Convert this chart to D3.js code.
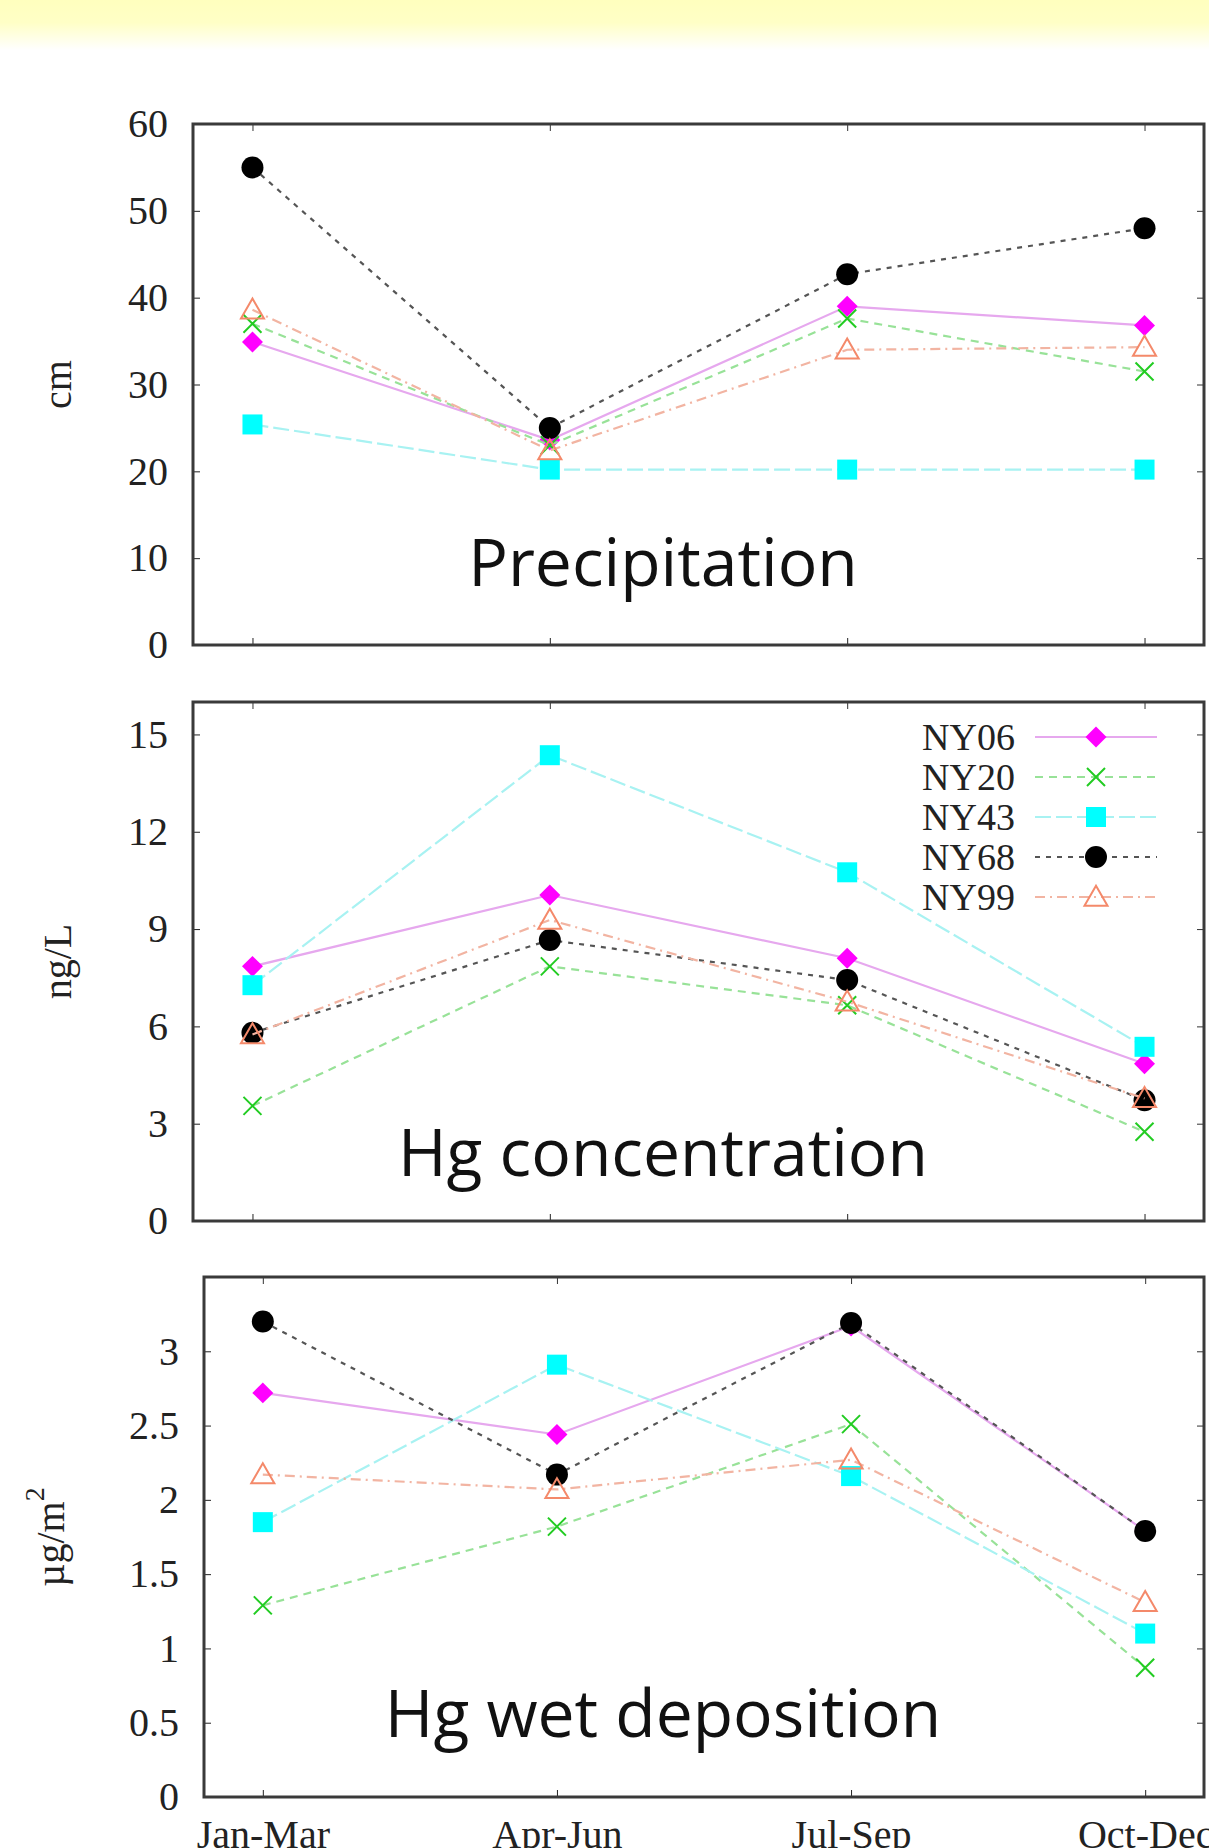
<!DOCTYPE html>
<html>
<head>
<meta charset="utf-8">
<script src="https://cdn.jsdelivr.net/npm/d3@7"></script>
<style>
body { margin: 0; background: #fff; }
svg { display: block; }
</style>
</head>
<body>
<script>
// seasons on the x axis
var quarters = ["Jan-Mar", "Apr-Jun", "Jul-Sep", "Oct-Dec"];
var stations = ["NY06", "NY20", "NY43", "NY68", "NY99"];

// precipitation (cm), one row per station (same order as stations)
var precip = [
    [34.9, 23.6, 39.0, 36.8],
    [37.0, 23.0, 37.6, 31.5],
    [25.4, 20.2, 20.2, 20.2],
    [55.0, 25.0, 42.7, 48.0],
    [38.6, 22.4, 34.0, 34.3]
];
// Hg concentration (ng/L)
var hgConc = [
    [7.85, 10.05, 8.1, 4.85],
    [3.55, 7.85, 6.65, 2.75],
    [7.27, 14.36, 10.75, 5.37],
    [5.8, 8.66, 7.43, 3.72],
    [5.75, 9.28, 6.76, 3.78]
];
// Hg wet deposition (ug/m2)
var hgDep = [
    [2.72, 2.44, 3.17, 1.79],
    [1.29, 1.82, 2.51, 0.87],
    [1.85, 2.91, 2.16, 1.10],
    [3.20, 2.17, 3.19, 1.79],
    [2.17, 2.07, 2.27, 1.31]
];

// tick labels
var precipTicks = [0, 10, 20, 30, 40, 50, 60];
var concTicks = [0, 3, 6, 9, 12, 15];
var depTicks = [0, 0.5, 1, 1.5, 2, 2.5, 3];

// styles per station
var markColor = ["#ff00ff", "#22cc22", "#00ffff", "#000000", "#f4896a"];
var lineColor = ["#e6a8ee", "#98e298", "#a8f2f2", "#555555", "#f2b4a2"];
var lineDash = [null, "8,6", "16,5", "5,6", "10,5,2,5"];

var W = 1209, H = 1848;
var serif = "'Liberation Serif', 'DejaVu Serif', serif";
var sans = "'Open Sans', 'Noto Sans', sans-serif";

var svg = d3.select("body").append("svg")
    .attr("width", W)
    .attr("height", H);

// pale yellow band at the very top
var grad = svg.append("defs").append("linearGradient")
    .attr("id", "topband")
    .attr("x1", 0).attr("y1", 0).attr("x2", 0).attr("y2", 1);
grad.append("stop").attr("offset", "0%").attr("stop-color", "#ffffbe");
grad.append("stop").attr("offset", "45%").attr("stop-color", "#ffffc6");
grad.append("stop").attr("offset", "100%").attr("stop-color", "#ffffff");
svg.append("rect")
    .attr("x", 0).attr("y", 0)
    .attr("width", W).attr("height", 50)
    .attr("fill", "url(#topband)");

// draw a marker of station i at (0,0) inside g
function drawMarker(g, i) {
    if (i === 0) { // filled diamond
        g.append("path")
            .attr("d", d3.symbol().type(d3.symbolSquare).size(220)())
            .attr("transform", "rotate(45)")
            .attr("fill", markColor[i]);
    } else if (i === 1) { // thin x
        g.append("path")
            .attr("d", "M-9,-9L9,9M-9,9L9,-9")
            .attr("stroke", markColor[i])
            .attr("stroke-width", 2)
            .attr("fill", "none");
    } else if (i === 2) { // filled square
        g.append("path")
            .attr("d", d3.symbol().type(d3.symbolSquare).size(400)())
            .attr("fill", markColor[i]);
    } else if (i === 3) { // filled circle
        g.append("path")
            .attr("d", d3.symbol().type(d3.symbolCircle).size(380)())
            .attr("fill", markColor[i]);
    } else { // open triangle
        g.append("path")
            .attr("d", d3.symbol().type(d3.symbolTriangle).size(230)())
            .attr("transform", "translate(0,2)")
            .attr("fill", "none")
            .attr("stroke", markColor[i])
            .attr("stroke-width", 2);
    }
}

function drawPanel(cfg) {
    var g = svg.append("g").attr("class", "panel");

    var x = d3.scalePoint()
        .domain(quarters)
        .range([cfg.left, cfg.right])
        .padding(0.2);

    var y = d3.scaleLinear()
        .domain([0, cfg.yMax])
        .range([cfg.bottom, cfg.top]);

    // left axis with labels, ticks pointing inside
    g.append("g")
        .attr("transform", "translate(" + cfg.left + ",0)")
        .call(d3.axisLeft(y).tickValues(cfg.ticks).tickFormat(d3.format("")).tickSize(-7).tickPadding(25))
        .attr("font-family", serif)
        .attr("font-size", 40)
        .attr("color", "#222")
        .call(function (a) { a.select(".domain").remove(); });

    // mirrored right axis ticks
    g.append("g")
        .attr("transform", "translate(" + cfg.right + ",0)")
        .call(d3.axisRight(y).tickValues(cfg.ticks).tickFormat("").tickSize(-7))
        .attr("color", "#333")
        .call(function (a) { a.select(".domain").remove(); });

    // top x ticks
    g.append("g")
        .attr("transform", "translate(0," + cfg.top + ")")
        .call(d3.axisTop(x).tickFormat("").tickSize(-7))
        .attr("color", "#333")
        .call(function (a) { a.select(".domain").remove(); });

    // bottom x ticks (labels only on last panel)
    var bottomAxis = d3.axisBottom(x).tickSize(-7).tickPadding(23);
    if (!cfg.xLabels) bottomAxis.tickFormat("");
    g.append("g")
        .attr("transform", "translate(0," + cfg.bottom + ")")
        .call(bottomAxis)
        .attr("font-family", serif)
        .attr("font-size", 40)
        .attr("color", "#222")
        .call(function (a) { a.select(".domain").remove(); });

    // frame
    g.append("rect")
        .attr("x", cfg.left)
        .attr("y", cfg.top)
        .attr("width", cfg.right - cfg.left)
        .attr("height", cfg.bottom - cfg.top)
        .attr("fill", "none")
        .attr("stroke", "#3a3a3a")
        .attr("stroke-width", 3);

    // y axis label
    var ylab = g.append("text")
        .attr("transform", "translate(" + cfg.labelX + "," + (cfg.top + cfg.bottom) / 2 + ") rotate(-90)")
        .attr("text-anchor", "middle")
        .attr("dy", "0.35em")
        .attr("font-family", serif)
        .attr("font-size", 40)
        .attr("fill", "#222")
        .text(cfg.unit);
    if (cfg.unitSup) {
        ylab.append("tspan")
            .attr("font-size", 28)
            .attr("dy", "-0.7em")
            .text(cfg.unitSup);
    }

    // panel title
    g.append("text")
        .attr("x", cfg.titleX)
        .attr("y", cfg.titleY)
        .attr("text-anchor", "middle")
        .attr("font-family", sans)
        .attr("font-size", 66)
        .attr("fill", "#111")
        .text(cfg.title);

    var line = d3.line()
        .x(function (d, j) { return x(quarters[j]); })
        .y(function (d) { return y(d); });

    // one line + markers per station, in plotting order
    cfg.data.forEach(function (row, i) {
        g.append("path")
            .datum(row)
            .attr("d", line)
            .attr("fill", "none")
            .attr("stroke", lineColor[i])
            .attr("stroke-width", 2.2)
            .attr("stroke-dasharray", lineDash[i]);

        g.selectAll(".pt" + i)
            .data(row)
            .enter()
            .append("g")
            .attr("class", "pt" + i)
            .attr("transform", function (d, j) {
                return "translate(" + x(quarters[j]) + "," + y(d) + ")";
            })
            .each(function () { drawMarker(d3.select(this), i); });
    });

    // legend
    if (cfg.legend) {
        var ly = d3.scalePoint().domain(stations).range([737, 897]);
        var leg = g.append("g").attr("class", "legend");
        stations.forEach(function (s, i) {
            leg.append("text")
                .attr("x", 1015)
                .attr("y", ly(s))
                .attr("dy", "0.35em")
                .attr("text-anchor", "end")
                .attr("font-family", serif)
                .attr("font-size", 38)
                .attr("fill", "#222")
                .text(s);
            leg.append("line")
                .attr("x1", 1035).attr("x2", 1157)
                .attr("y1", ly(s)).attr("y2", ly(s))
                .attr("stroke", lineColor[i])
                .attr("stroke-width", 2.2)
                .attr("stroke-dasharray", lineDash[i]);
            drawMarker(leg.append("g").attr("transform", "translate(1096," + ly(s) + ")"), i);
        });
    }
}

drawPanel({
    data: precip, ticks: precipTicks, yMax: 60,
    left: 193, right: 1204, top: 124, bottom: 645,
    unit: "cm", labelX: 57,
    title: "Precipitation", titleX: 663, titleY: 586
});

drawPanel({
    data: hgConc, ticks: concTicks, yMax: 16,
    left: 193, right: 1204, top: 702, bottom: 1221,
    unit: "ng/L", labelX: 57,
    title: "Hg concentration", titleX: 663, titleY: 1176,
    legend: true
});

drawPanel({
    data: hgDep, ticks: depTicks, yMax: 3.5,
    left: 204, right: 1204, top: 1277, bottom: 1797,
    unit: "\u00b5g/m", unitSup: "2", labelX: 50,
    title: "Hg wet deposition", titleX: 663, titleY: 1737,
    xLabels: true
});
</script>
</body>
</html>
